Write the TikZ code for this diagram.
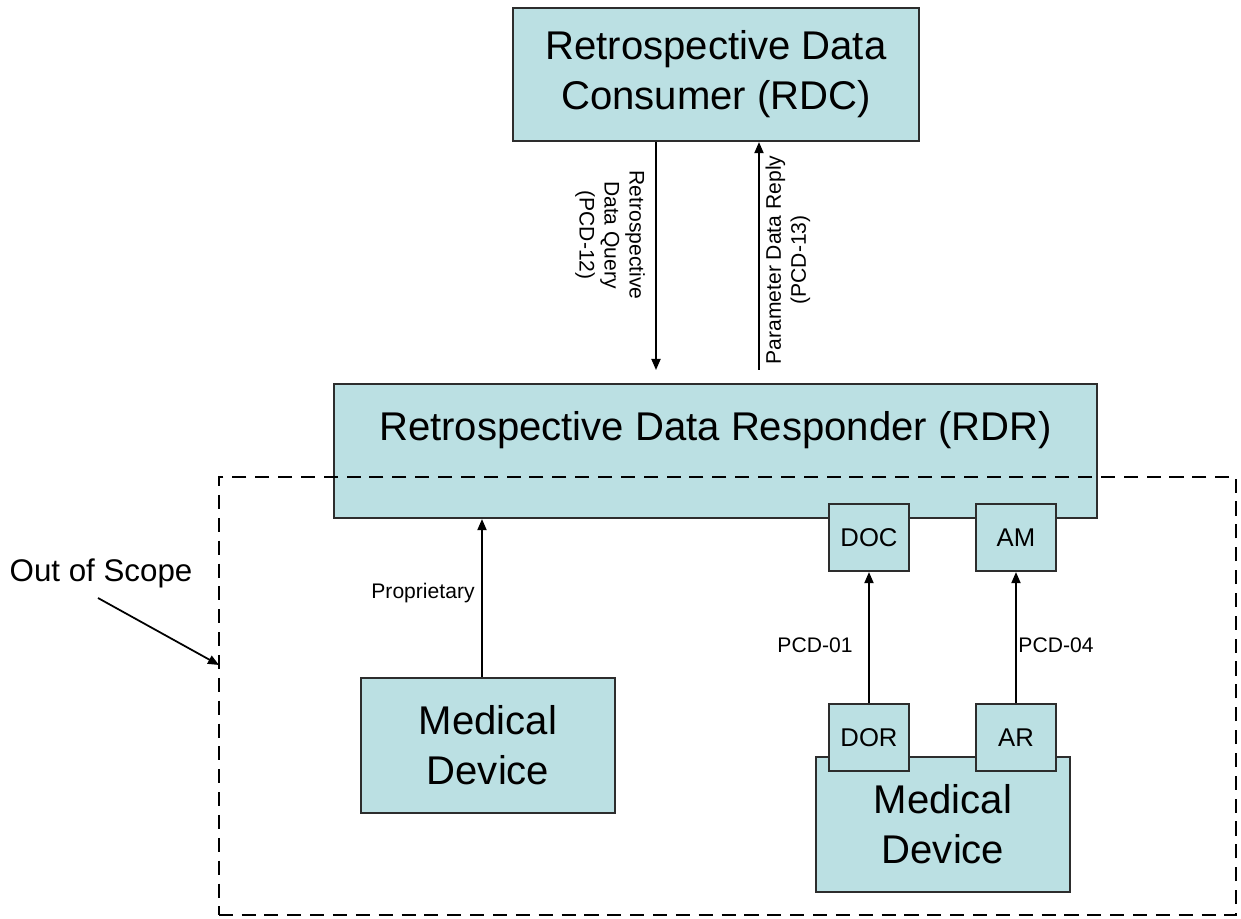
\documentclass[tikz,border=0pt]{standalone}
\usepackage{fontspec}
\setmainfont{Liberation Sans}
\usetikzlibrary{arrows.meta}
\definecolor{boxfill}{RGB}{187,224,227}
\definecolor{boxline}{RGB}{45,45,45}
\begin{document}
\begin{tikzpicture}[x=0.01cm,y=-0.01cm,
  box/.style={draw=boxline,fill=boxfill,line width=0.6pt,inner sep=0pt,align=center},
  bigtxt/.style={font=\fontsize{11.4}{14.2}\selectfont},
  midtxt/.style={font=\fontsize{7.3}{8.8}\selectfont},
  smalltxt/.style={font=\fontsize{6}{7.1}\selectfont,inner sep=0pt,align=center},
  arr/.style={line width=0.5pt,-{Triangle[length=0.11cm,width=0.09cm]}},
  scopebox/.style={dashed,line width=0.5pt,dash pattern=on 4pt off 2.5pt}]
\useasboundingbox (0,0) rectangle (1241,919);
% top consumer
\node[box,bigtxt,minimum width=4.06cm,minimum height=1.33cm] (RDC) at (716,74.5)
  {Retrospective Data\\Consumer (RDC)};
% responder
\node[box,minimum width=7.63cm,minimum height=1.34cm,
  label={[bigtxt,yshift=0.21cm]center:Retrospective Data Responder (RDR)}] (RDR) at (715.5,451) {};
% out of scope dashed region
\node[scopebox,draw,inner sep=0pt,minimum width=10.17cm,minimum height=4.38cm] (SCOPE) at (727.5,696) {};
% actor boxes on responder
\node[box,midtxt,minimum width=0.8cm,minimum height=0.67cm] (DOC) at (869,537.5) {DOC};
\node[box,midtxt,minimum width=0.8cm,minimum height=0.67cm] (AM) at (1016,537.5) {AM};
% medical devices
\node[box,bigtxt,minimum width=2.54cm,minimum height=1.35cm] (MD1) at (488,745.5) {Medical\\Device};
\node[box,bigtxt,minimum width=2.54cm,minimum height=1.35cm] (MD2) at (943,824.5) {Medical\\Device};
\node[box,midtxt,minimum width=0.8cm,minimum height=0.67cm] (DOR) at (869,737.5) {DOR};
\node[box,midtxt,minimum width=0.8cm,minimum height=0.67cm] (AR) at (1016,737.5) {AR};
% query / reply transactions
\coordinate (qx) at (656,0);
\coordinate (qEnd) at (656,370);
\coordinate (rStart) at (759,370);
\draw[arr] (RDC.south -| qx) -- (qEnd);
\draw[arr] (rStart) -- (RDC.south -| rStart);
\node[smalltxt,rotate=-90] (QL) at (610,235) {Retrospective\\Data Query\\(PCD-12)};
\node[smalltxt,rotate=90] (RL) at (788,260) {Parameter Data Reply\\(PCD-13)};
% proprietary
\coordinate (px) at (482,0);
\draw[arr] (MD1.north -| px) -- (RDR.south -| px);
\node[smalltxt] (PL) at (423,593) {Proprietary};
% PCD-01 / PCD-04
\draw[arr] (DOR.north) -- (DOC.south);
\draw[arr] (AR.north) -- (AM.south);
\node[smalltxt] (P1) at (815,645) {PCD-01};
\node[smalltxt] (P4) at (1056,645) {PCD-04};
% out of scope callout
\node[font=\fontsize{8.9}{10}\selectfont,inner sep=0pt] (OOS) at (101,573) {Out of Scope};
\coordinate (oStart) at (98,598);
\coordinate (oEnd) at (219,665);
\draw[arr] (oStart) -- (oEnd);
\end{tikzpicture}
\end{document}
